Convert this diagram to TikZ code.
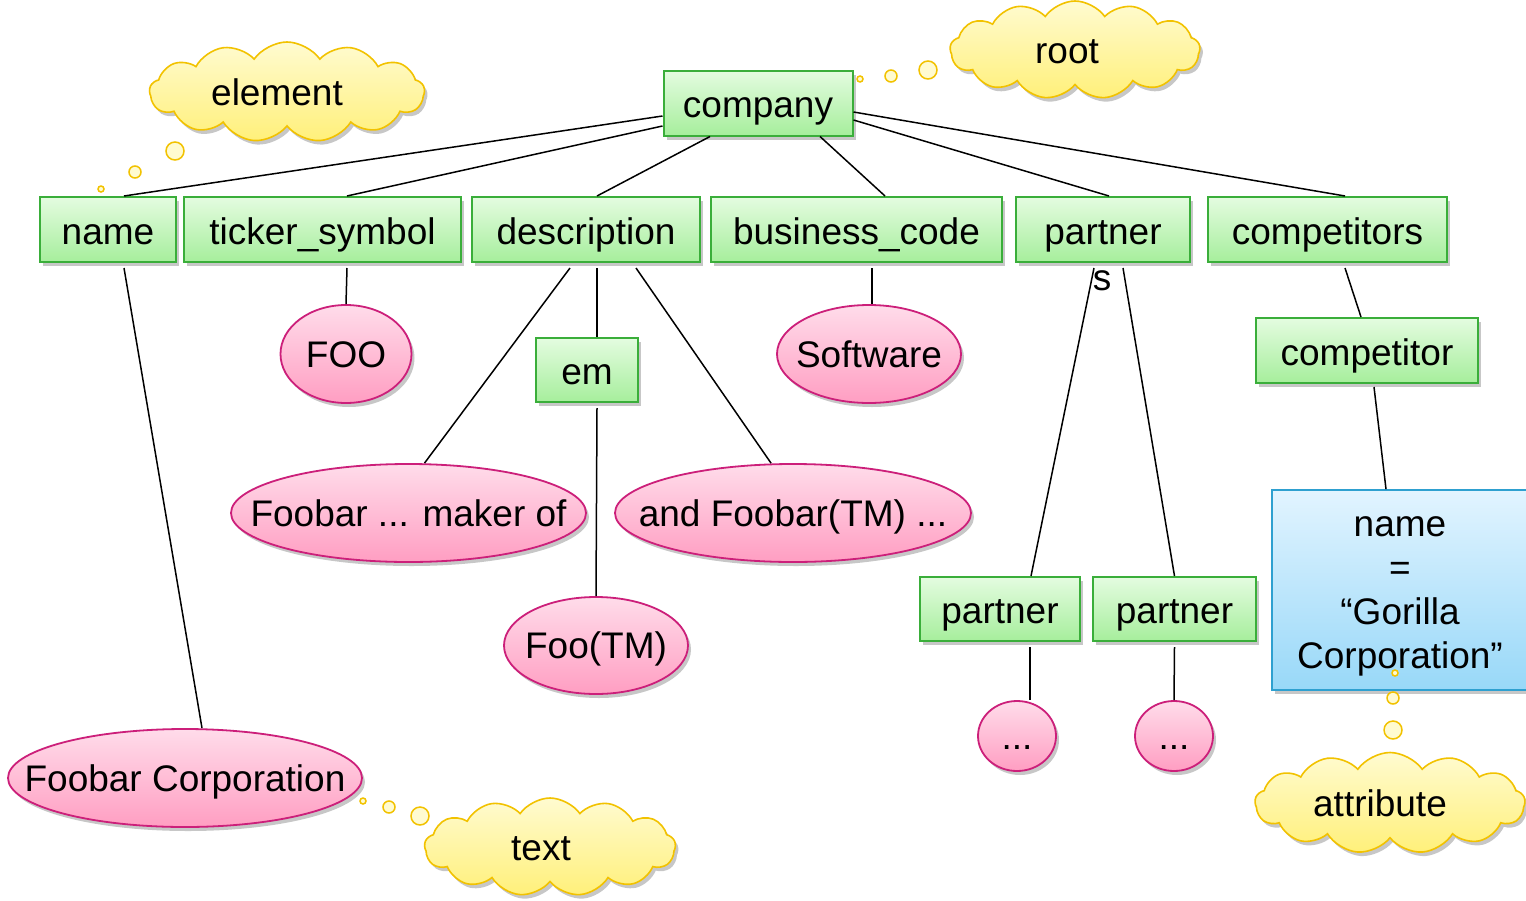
\documentclass[tikz,border=0pt]{standalone}
\usepackage{fontspec}
\setmainfont{Liberation Sans}
\usetikzlibrary{shapes.geometric,shapes.symbols,shadows,calc}

\definecolor{greenTop}{HTML}{E4FCE0}
\definecolor{greenBot}{HTML}{A6EE9C}
\definecolor{greenLine}{HTML}{3AAE3A}
\definecolor{pinkTop}{HTML}{FFDCEA}
\definecolor{pinkBot}{HTML}{FF9EC2}
\definecolor{pinkLine}{HTML}{CC1F7A}
\definecolor{blueTop}{HTML}{E2F4FF}
\definecolor{blueBot}{HTML}{98D8F8}
\definecolor{blueLine}{HTML}{2EA0D0}
\definecolor{noteTop}{HTML}{FFFBD0}
\definecolor{noteBot}{HTML}{FFF07A}
\definecolor{noteLine}{HTML}{F2C200}

\begin{document}
\begin{tikzpicture}[x=1pt,y=-1pt,
  font=\fontsize{37}{44}\selectfont,
  softshadow/.style={drop shadow={shadow xshift=3pt, shadow yshift=-4pt, opacity=0.22, fill=black}},
  lbl/.style={inner sep=0pt, text height=30pt, text depth=4pt},
  elem/.style={rectangle, draw=greenLine, line width=2pt, top color=greenTop,
    bottom color=greenBot, minimum height=65pt, inner sep=0pt,
    text height=31pt, text depth=2pt, softshadow},
  txt/.style={ellipse, draw=pinkLine, line width=1.8pt, top color=pinkTop,
    bottom color=pinkBot, minimum height=98pt, inner sep=0pt, softshadow},
  attr/.style={rectangle, draw=blueLine, line width=1.8pt, top color=blueTop,
    bottom color=blueBot, inner sep=0pt, softshadow},
  note/.style={cloud, cloud puffs=13, cloud puff arc=110, cloud ignores aspect,
    draw=noteLine, line width=1.6pt, top color=noteTop, bottom color=noteBot,
    inner sep=0pt, softshadow},
  bubble/.style={circle, draw=noteLine, line width=1.5pt, fill=noteTop, inner sep=0pt},
  link/.style={draw=black, line width=1.5pt}]

\useasboundingbox (0,0) rectangle (1526,900);
\fill[white] (0,0) rectangle (1526,900);

% ---- element nodes ----
\node[elem, minimum width=189pt] (company) at (758,103) {company};
\node[elem, minimum width=136pt] (name) at (108,229.5) {name};
\node[elem, minimum width=277pt] (ticker) at (322.5,229.5) {ticker\_symbol};
\node[elem, minimum width=228pt] (description) at (586,229.5) {description};
\node[elem, minimum width=291pt] (business) at (856.5,229.5) {business\_code};
\node[elem, minimum width=174pt] (partners) at (1103,229.5) {partner};
\node[lbl] (partnersS) at ($(partners.south)+(-1,14)$) {s};
\node[elem, minimum width=239pt] (competitors) at (1327.5,229.5) {competitors};
\node[elem, minimum width=102pt, minimum height=64pt] (em) at (587,370) {em};
\node[elem, minimum width=222pt] (competitor) at (1367,350.5) {competitor};
\node[elem, minimum width=160pt, minimum height=64pt] (partnerA) at (1000,609) {partner};
\node[elem, minimum width=163pt, minimum height=64pt] (partnerB) at (1174.5,609) {partner};

% ---- text nodes ----
\node[txt, minimum width=131pt, label={[lbl]center:FOO}] (foo) at (346,354) {};
\node[txt, minimum width=184pt, label={[lbl]center:Software}] (software) at (869,354) {};
\node[txt, minimum width=355pt, label={[lbl]center:Foobar ... maker of}] (makerof) at (408.5,513) {};
\node[txt, minimum width=356pt, label={[lbl]center:and Foobar(TM) ...}] (andfoobar) at (793,513) {};
\node[txt, minimum width=184pt, minimum height=97pt, label={[lbl]center:Foo(TM)}] (footm) at (596,645.5) {};
\node[txt, minimum width=78pt, minimum height=70pt, label={[lbl]center:...}] (dotsA) at (1017,736) {};
\node[txt, minimum width=78pt, minimum height=70pt, label={[lbl]center:...}] (dotsB) at (1174,736) {};
\node[txt, minimum width=354pt, label={[lbl]center:Foobar Corporation}] (foobarcorp) at (185,778) {};

% ---- attribute node ----
\node[attr, minimum width=256pt, minimum height=200pt,
  label={[inner sep=0pt, align=center, yshift=-6pt]center:name\\=\\“Gorilla\\Corporation”}]
  (gorilla) at (1400,590) {};

% ---- connectors ----
\draw[link] ($(company.west)+(0,13)$) -- ($(name.north)+(16,0)$);
\draw[link] ($(company.west)+(0,23)$) -- ($(ticker.north)+(24.5,0)$);
\draw[link] ($(company.south)+(-48,0)$) -- ($(description.north)+(11,0)$);
\draw[link] ($(company.south)+(62,0)$) -- ($(business.north)+(28.5,0)$);
\draw[link] ($(company.east)+(0,17)$) -- ($(partners.north)+(6,0)$);
\draw[link] ($(company.east)+(0,9)$) -- ($(competitors.north)+(17.5,0)$);
\draw[link] ($(name.south)+(16,5)$) -- ($(foobarcorp.north)+(17,0)$);
\draw[link] ($(ticker.south)+(24.5,5)$) -- (foo.north);
\draw[link] ($(description.south)+(-16,5)$) -- ($(makerof.north)+(16,0)$);
\draw[link] ($(description.south)+(11,5)$) -- ($(em.north)+(10,0)$);
\draw[link] ($(description.south)+(50,5)$) -- ($(andfoobar.north)+(-22,0)$);
\draw[link] ($(em.south)+(10,5)$) -- (footm.north);
\draw[link] ($(business.south)+(15.5,5)$) -- ($(software.north)+(3,0)$);
\draw[link] ($(partners.south)+(-9,5)$) -- ($(partnerA.north)+(31,0)$);
\draw[link] ($(partners.south)+(20,5)$) -- (partnerB.north);
\draw[link] ($(partnerA.south)+(30,5)$) -- ($(dotsA.north)+(13,0)$);
\draw[link] ($(partnerB.south)+(0,5)$) -- (dotsB.north);
\draw[link] ($(competitors.south)+(17.5,5)$) -- ($(competitor.north)+(-6,0)$);
\draw[link] ($(competitor.south)+(7,3)$) -- ($(gorilla.north)+(-14,0)$);

% ---- callout clouds ----
\node[note, minimum width=275pt, minimum height=100pt,
  label={[lbl, xshift=-10pt]center:element}] (elementNote) at (287,92) {};
\node[bubble, minimum size=18pt] (eb1) at (175,151) {};
\node[bubble, minimum size=12pt] (eb2) at (135,172) {};
\node[bubble, minimum size=6pt] (eb3) at (101,189) {};

\node[note, minimum width=250pt, minimum height=98pt,
  label={[lbl, xshift=-8pt]center:root}] (rootNote) at (1075,50) {};
\node[bubble, minimum size=18pt] (rb1) at (928,70) {};
\node[bubble, minimum size=12pt] (rb2) at (891,76) {};
\node[bubble, minimum size=6pt] (rb3) at (860,79) {};

\node[note, minimum width=251pt, minimum height=98pt,
  label={[lbl, xshift=-9pt]center:text}] (textNote) at (550,847) {};
\node[bubble, minimum size=18pt] (tb1) at (420,816) {};
\node[bubble, minimum size=12pt] (tb2) at (389,807) {};
\node[bubble, minimum size=6pt] (tb3) at (363,801) {};

\node[note, minimum width=270pt, minimum height=101pt,
  label={[lbl, xshift=-10pt]center:attribute}] (attrNote) at (1390,803) {};
\node[bubble, minimum size=18pt] (ab1) at (1393,730) {};
\node[bubble, minimum size=12pt] (ab2) at (1393,698) {};
\node[bubble, minimum size=6pt] (ab3) at (1395,673) {};
\end{tikzpicture}
\end{document}
